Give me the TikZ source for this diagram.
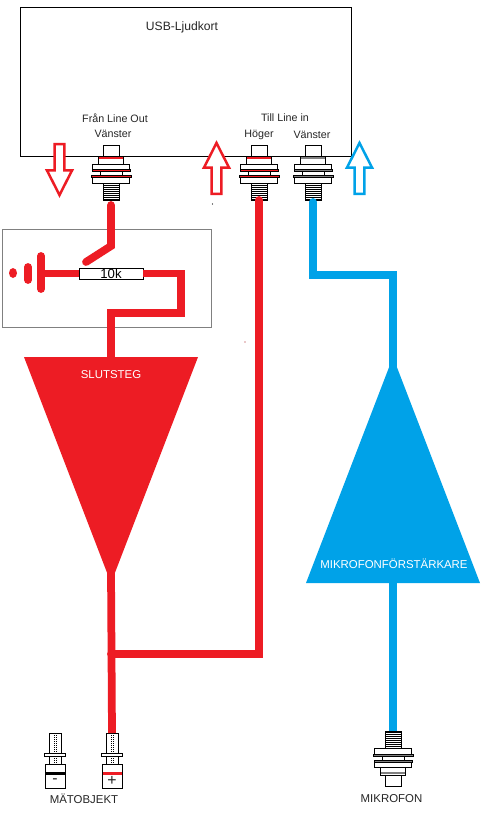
\documentclass[tikz,border=0pt]{standalone}
\usepackage{fontspec}
\setmainfont{Liberation Sans}
\usetikzlibrary{
  calc,
  shapes.arrows
}
\definecolor{wireRed}{RGB}{237,28,36}
\definecolor{wireBlue}{RGB}{0,162,232}
\definecolor{frameGray}{RGB}{128,128,128}
\tikzset{
  wire/.style={line width=0.155cm, line cap=round, line join=miter},
  redwire/.style={wire, draw=wireRed},
  bluewire/.style={wire, draw=wireBlue},
  label/.style={font=\fontsize{6.1}{7}\selectfont, inner sep=0pt, text=black!85},
  caplabel/.style={font=\fontsize{6.5}{7}\selectfont, inner sep=0pt, text=black!85},
  amplabel/.style={font=\fontsize{6.5}{7}\selectfont, inner sep=0pt, text=white},
  signalarrow/.style={
    single arrow,
    draw=#1,
    fill=white,
    line width=0.05cm,
    minimum height=1.02cm,
    minimum width=0.5cm,
    single arrow head extend=0.04cm,
    single arrow tip angle=54,
    inner sep=0pt,
    outer sep=0pt,
    anchor=tip
  },
  part/.style={draw=black, fill=white, line width=0.55pt},
  pics/jack/.style={code={
    \draw[part] (-8,0) rectangle (8,11);
    \draw[part] (-12.5,11) rectangle (12.5,19);
    \draw[draw=#1, line width=0.6pt] (-12,13) -- (12,13);
    \draw[part] (-18.5,19) rectangle (18.5,24);
    \draw[part] (-11,26) rectangle (11,30);
    \draw[part, fill=#1] (-19,24) rectangle (19,26);
    \draw[part, fill=#1] (-19.5,30) rectangle (20,32);
    \draw[part] (-18.5,32) rectangle (18.5,38);
    \draw[part] (-8,38) rectangle (8,55);
    \foreach \y in {40,42,...,54}
      \draw[line width=0.5pt] (-8,\y) -- (8,\y);
    \coordinate (-wire) at (0,55);
  }},
  pics/probe/.style 2 args={code={
    \draw[part] (-6,0) rectangle (6,20);
    \draw[part] (-10.5,20) rectangle (10.5,23);
    \draw[part] (-6,23) rectangle (6,31);
    \draw[part] (-10,31) rectangle (10,55);
    \fill[#1] (-9.5,39) rectangle (9.5,42);
    \foreach \y in {2,4,...,18,25,27,29}
      \draw[line width=0.5pt] (-1,\y) -- (-1,\y+1) (1,\y) -- (1,\y+1);
    \node[label, font=\fontsize{9}{9}\selectfont] (-sign) at (0,48) {#2};
    \coordinate (-wire) at (0,0);
  }}
}

\begin{document}
\begin{tikzpicture}[x=0.02cm,y=-0.02cm]
  \useasboundingbox[fill=white] (0,0) rectangle (500,816);

  % sound card
  \draw[line width=0.55pt] (20,7) rectangle (351,156);
  \node[label, font=\fontsize{6.9}{7}\selectfont] (cardname) at (182,27) {USB-Ljudkort};
  \node[label] (outname) at (115,118) {Från Line Out};
  \node[label] (outleft) at (113,134) {Vänster};
  \node[label] (inname) at (285,118) {Till Line in};
  \node[label] (inright) at (259,135) {Höger};
  \node[label] (inleft) at (312,135) {Vänster};

  % gray frame
  \draw[draw=frameGray, line width=0.5pt] (2,229) rectangle (211,327);

  % amplifiers
  \coordinate (slutTop) at (111,357);
  \coordinate (slutTip) at (111,572);
  \coordinate (forstTop) at (393,366);
  \coordinate (forstBase) at (393,583);
  \fill[wireRed] (24,357) -- (198,357) -- (111,583) -- cycle;
  \fill[wireBlue] (393,357) -- (480,583) -- (306,583) -- cycle;
  \node[amplabel] (slutname) at (111,375) {SLUTSTEG};
  \node[amplabel] (forstname) at (394,564) {MIKROFONFÖRSTÄRKARE};

  % connectors
  \pic (jackOut) at (111,145) {jack=wireRed};
  \pic (jackRight) at (259,145) {jack=wireRed};
  \pic (jackLeft) at (313,145) {jack=gray};
  \pic[yscale=-1] (jackMic) at (393,786) {jack=gray};
  \pic (probeMinus) at (55,733) {probe={black}{-}};
  \pic (probePlus) at (112,733) {probe={wireRed}{+}};

  \node[caplabel] (matobjekt) at (84,799) {MÄTOBJEKT};
  \node[caplabel] (mikrofon) at (391.5,799) {MIKROFON};

  % direction arrows
  \node[signalarrow=wireRed, shape border rotate=270] (arrowOut) at (59.5,195) {};
  \node[signalarrow=wireRed, shape border rotate=90] (arrowIn) at (216.5,143) {};
  \node[signalarrow=wireBlue, shape border rotate=90] (arrowMic) at (359.5,143) {};

  % switch and load
  \node[draw=black, fill=white, line width=0.55pt, minimum width=1.28cm, minimum height=0.22cm,
    inner sep=0pt, outer sep=0pt, font=\fontsize{7.5}{8}\selectfont] (load) at (111,273.5) {10k};
  \coordinate (lever) at (86,262);
  \coordinate (ground) at (41,273.5);
  \draw[redwire] (jackOut-wire) ++(0,5) -- ++(0,41) -- (lever);
  \draw[redwire, line cap=butt] (ground) -- (load.west);
  \draw[redwire, line cap=butt] (load.east) -- (181,273.5) -- (181,313) -- (111,313) -- (slutTop);
  \draw[redwire] (41,256) -- (41,289);
  \draw[redwire] (28,267) -- (28,280);
  \fill[wireRed] (13,273) ellipse (4 and 5);

  % output side
  \draw[redwire, line cap=butt] (slutTip) -- (probePlus-wire);
  \draw[redwire] (jackRight-wire) -- (259,654) -- (111,654);

  % microphone side
  \draw[bluewire] (jackLeft-wire) ++(0,2) -- (313,275) -- (393,275) -- (forstTop);
  \draw[bluewire, line cap=butt] (forstBase) -- (jackMic-wire);

  % specks
  \fill[black] (212.5,204) circle (0.6);
  \fill[wireRed!70!black] (245,342) circle (0.6);
\end{tikzpicture}
\end{document}
